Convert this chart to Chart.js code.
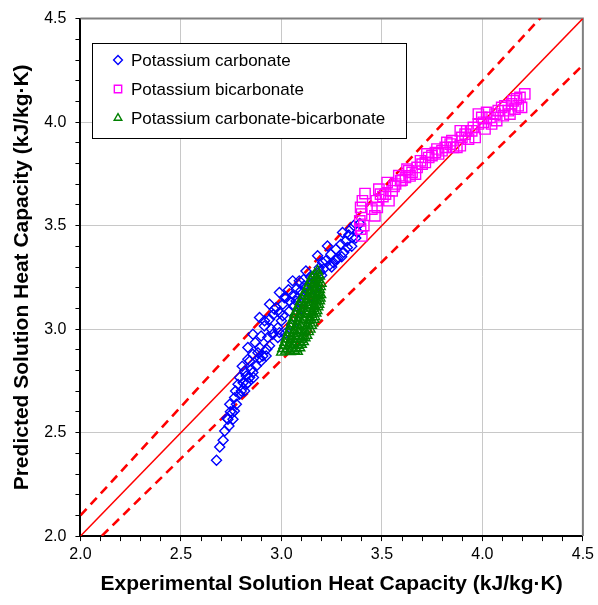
<!DOCTYPE html>
<html lang="en">
<head>
  <meta charset="UTF-8" />
  <title>Solution Heat Capacity</title>
  <script src="https://cdn.jsdelivr.net/npm/chart.js"></script>
  <style>
    body {margin:0; background:#fff;}
    #wrap {width:598px; height:605px;}
  </style>
</head>
<body>
  <div id="wrap"><canvas id="chart" width="598" height="605"></canvas></div>

  <script>
    // series labels
    const seriesNames = ['Potassium carbonate', 'Potassium bicarbonate', 'Potassium carbonate-bicarbonate'];

    // Potassium carbonate (experimental, predicted)
    const carbX = [2.677,2.693,2.710,2.718,2.739,2.759,2.734,2.756,2.743,2.776,2.767,2.792,2.772,2.817,2.784,2.809,2.833,2.792,2.825,2.861,
      2.817,2.850,2.875,2.842,2.891,2.833,2.858,2.907,2.891,2.927,2.833,2.858,2.899,2.932,2.957,2.891,2.916,2.941,2.949,2.982,
      2.941,2.974,2.990,3.007,2.965,2.990,3.015,3.040,3.007,3.056,3.064,3.023,3.040,3.073,3.097,3.114,3.122,3.147,3.155,3.089,
      3.180,3.188,3.205,3.229,3.246,3.271,3.271,3.304,3.320,3.345,3.353,3.328,3.296,3.221,3.130,3.073,2.899,2.924,2.941,2.982,
      2.990,2.883,2.842,2.858,2.825,2.800,2.729,2.766,2.746,3.020,3.050,3.100,3.150,3.170,3.200,3.250,3.300,3.350,3.370,3.380,
      3.360,3.390,3.240,3.280,3.310,3.190,3.160,3.120,3.080,3.060,2.805,2.870,2.915,2.960,3.000,3.035,3.110,3.210,3.260,3.335];
    const carbY = [2.366,2.430,2.463,2.508,2.532,2.564,2.564,2.596,2.637,2.637,2.669,2.685,2.701,2.701,2.733,2.741,2.741,2.766,2.774,2.766,
      2.798,2.806,2.822,2.846,2.862,2.854,2.879,2.870,2.911,2.903,2.911,2.975,2.967,2.959,2.975,3.056,3.040,3.048,3.000,3.007,
      3.120,3.104,3.080,3.064,3.096,3.177,3.152,3.136,3.120,3.233,3.161,3.152,3.088,3.136,3.185,3.209,3.281,3.249,3.225,3.233,
      3.354,3.297,3.322,3.402,3.362,3.386,3.338,3.467,3.426,3.483,3.442,3.394,3.410,3.330,3.177,3.193,2.846,2.870,2.919,2.959,
      2.983,2.886,2.766,2.790,2.734,2.701,2.569,2.604,2.601,2.980,3.020,3.100,3.160,3.200,3.260,3.300,3.350,3.400,3.440,3.470,
      3.500,3.510,3.310,3.340,3.370,3.280,3.250,3.200,3.150,3.110,2.820,2.935,3.015,3.070,3.040,3.190,3.240,3.290,3.320,3.455];

    // Potassium bicarbonate
    const bicX = [3.394,3.390,3.399,3.394,3.403,3.416,3.465,3.477,3.472,3.493,3.485,3.526,3.535,3.518,3.551,3.568,3.593,3.584,3.617,3.634,
      3.625,3.650,3.667,3.675,3.700,3.692,3.716,3.733,3.724,3.749,3.766,3.774,3.782,3.799,3.815,3.823,3.840,3.848,3.856,3.873,
      3.890,3.898,3.890,3.914,3.922,3.931,3.947,3.955,3.964,3.980,3.980,3.997,4.005,4.013,4.021,4.038,4.046,4.063,4.071,4.079,
      4.096,4.104,4.112,4.129,4.145,4.137,4.153,4.170,4.178,4.187,4.211,4.195,4.162,3.400,3.410,3.450,3.505,3.560,3.600,3.640];
    const bicY = [3.483,3.523,3.556,3.588,3.620,3.655,3.547,3.588,3.620,3.652,3.676,3.708,3.620,3.652,3.668,3.701,3.717,3.741,3.733,3.765,
      3.773,3.757,3.749,3.781,3.797,3.813,3.805,3.829,3.846,3.838,3.853,3.870,3.846,3.862,3.878,3.902,3.894,3.910,3.878,3.878,
      3.886,3.926,3.958,3.942,3.958,3.918,3.958,3.974,3.926,3.991,4.039,4.023,3.999,3.967,4.047,4.023,3.991,4.039,4.007,4.055,
      4.071,4.031,4.079,4.055,4.088,4.039,4.103,4.112,4.079,4.119,4.136,4.071,4.063,3.450,3.500,3.580,3.640,3.690,3.720,3.740];

    // Potassium carbonate-bicarbonate
    const mixX = [3.000,3.020,3.045,3.065,3.080, 3.012,3.035,3.058,3.082,3.100, 3.022,3.046,3.072,3.098,3.118,
      3.034,3.058,3.085,3.110,3.135, 3.045,3.070,3.098,3.124,3.150, 3.055,3.082,3.110,3.138,3.162,
      3.066,3.094,3.122,3.150,3.172, 3.080,3.106,3.134,3.160,3.182, 3.094,3.120,3.146,3.170,3.190,
      3.108,3.134,3.158,3.180,3.196, 3.124,3.148,3.170,3.190, 3.138,3.160,3.180,3.198, 3.152,3.172,3.190, 3.180,
      3.006,3.028,3.052,3.074,3.092, 3.017,3.041,3.066,3.090,3.110, 3.028,3.052,3.079,3.104,3.127,
      3.040,3.064,3.092,3.117,3.143, 3.050,3.076,3.104,3.131,3.156, 3.061,3.088,3.116,3.144,3.167,
      3.073,3.100,3.128,3.155,3.177, 3.087,3.113,3.140,3.165,3.186, 3.101,3.127,3.152,3.175,3.193,
      3.116,3.141,3.164,3.185, 3.131,3.154,3.175,3.194, 3.145,3.166,3.185, 3.166,3.184];
    const mixY = [2.888,2.893,2.890,2.896,2.892, 2.921,2.917,2.924,2.919,2.926, 2.951,2.948,2.955,2.950,2.957,
      2.982,2.978,2.985,2.980,2.987, 3.012,3.009,3.015,3.010,3.017, 3.042,3.038,3.045,3.040,3.046,
      3.072,3.069,3.075,3.070,3.077, 3.102,3.098,3.105,3.100,3.107, 3.132,3.128,3.135,3.130,3.136,
      3.162,3.158,3.165,3.160,3.166, 3.192,3.188,3.195,3.190, 3.222,3.218,3.225,3.220, 3.252,3.248,3.255, 3.281,
      2.905,2.903,2.908,2.904,2.909, 2.935,2.932,2.938,2.934,2.939, 2.965,2.962,2.968,2.964,2.969,
      2.995,2.992,2.998,2.994,2.999, 3.025,3.022,3.028,3.024,3.029, 3.055,3.052,3.058,3.054,3.059,
      3.085,3.082,3.088,3.084,3.089, 3.115,3.112,3.118,3.114,3.119, 3.145,3.142,3.148,3.144,3.149,
      3.175,3.172,3.178,3.174, 3.205,3.202,3.208,3.204, 3.235,3.232,3.238, 3.265,3.262];

    // reference lines (parity and +/-5 %)
    const parityX = [2.0, 4.5];
    const upperFactor = 1.05, lowerFactor = 0.95;

    const pts = (xs, ys) => xs.map((x, i) => ({x: x, y: ys[i]}));
    const isMajor = v => Math.abs(v * 2 - Math.round(v * 2)) < 1e-6;
    const FONT = "'Liberation Sans', Arial, sans-serif";

    const datasets = [
      {label: seriesNames[2], data: pts(mixX, mixY), pointStyle: 'triangle', pointRadius: 5.6,
       borderColor: '#008000', backgroundColor: 'rgba(0,0,0,0)', borderWidth: 1.4, showLine: false, order: 1},
      {label: seriesNames[1], data: pts(bicX, bicY), pointStyle: 'rect', pointRadius: 7.3,
       borderColor: '#ff00ff', backgroundColor: 'rgba(0,0,0,0)', borderWidth: 1.4, showLine: false, order: 2},
      {label: seriesNames[0], data: pts(carbX, carbY), pointStyle: 'rectRot', pointRadius: 5,
       borderColor: '#0000ff', backgroundColor: 'rgba(0,0,0,0)', borderWidth: 1.4, showLine: false, order: 3},
      {label: 'y=x', data: parityX.map(x => ({x: x, y: x})), showLine: true, pointRadius: 0,
       borderColor: '#ff0000', borderWidth: 1.5, order: 4},
      {label: '+5%', data: parityX.map(x => ({x: x, y: x * upperFactor})), showLine: true, pointRadius: 0,
       borderColor: '#ff0000', borderWidth: 2.6, borderDash: [9, 6], order: 4},
      {label: '-5%', data: parityX.map(x => ({x: x, y: x * lowerFactor})), showLine: true, pointRadius: 0,
       borderColor: '#ff0000', borderWidth: 2.6, borderDash: [9, 6], order: 4}
    ];

    // grey frame on top and right of plot area
    const frame = {
      id: 'frame',
      beforeDatasetsDraw(chart) {
        const {ctx, chartArea: a} = chart;
        ctx.save();
        ctx.strokeStyle = '#808080';
        ctx.lineWidth = 2;
        ctx.beginPath();
        ctx.moveTo(a.left, a.top); ctx.lineTo(a.right, a.top); ctx.lineTo(a.right, a.bottom);
        ctx.stroke();
        ctx.restore();
      }
    };

    // boxed legend inside the plot
    const boxLegend = {
      id: 'boxLegend',
      afterDraw(chart) {
        const ctx = chart.ctx;
        const order = [2, 1, 0];
        ctx.save();
        ctx.fillStyle = '#fff';
        ctx.strokeStyle = '#000';
        ctx.lineWidth = 1;
        ctx.fillRect(92, 43, 314, 95);
        ctx.strokeRect(92.5, 43.5, 314, 95);
        ctx.font = '17px ' + FONT;
        ctx.textBaseline = 'middle';
        order.forEach((di, row) => {
          const ds = chart.data.datasets[di];
          const y = 60 + row * 29;
          ctx.strokeStyle = ds.borderColor;
          ctx.fillStyle = 'rgba(0,0,0,0)';
          ctx.lineWidth = 1.4;
          Chart.helpers.drawPoint(ctx, {pointStyle: ds.pointStyle, radius: ds.pointStyle === 'rect' ? 5.2 : 4.4,
            rotation: 0, borderWidth: 1.4}, 118, y);
          ctx.fillStyle = '#000';
          ctx.fillText(ds.label, 131, y + 1);
        });
        ctx.restore();
      }
    };

    const axis = title => ({
      type: 'linear', min: 2, max: 4.5,
      border: {color: '#000', width: 2},
      grid: {
        color: c => isMajor(c.tick.value) ? '#c8c8c8' : 'rgba(0,0,0,0)',
        tickColor: '#000', tickLength: 5, lineWidth: 1
      },
      ticks: {
        stepSize: 0.1, autoSkip: false, maxRotation: 0, color: '#000',
        font: {family: FONT, size: 16},
        callback: v => isMajor(v) ? v.toFixed(1) : ''
      },
      title: {display: true, text: title, color: '#000', font: {family: FONT, size: 21, weight: 'bold'}}
    });

    const xAxis = axis('Experimental Solution Heat Capacity (kJ/kg\u00b7K)');
    xAxis.ticks.padding = 4;
    xAxis.title.padding = {top: 3, bottom: 0};
    const yAxis = axis('Predicted Solution Heat Capacity (kJ/kg\u00b7K)');
    yAxis.ticks.padding = 9;
    yAxis.title.padding = {top: 0, bottom: 0};

    new Chart(document.getElementById('chart'), {
      type: 'scatter',
      data: {datasets: datasets},
      options: {
        responsive: false,
        animation: false,
        layout: {padding: {left: 10, right: 9, top: 18, bottom: 8.5}},
        plugins: {legend: {display: false}, tooltip: {enabled: false}},
        scales: {x: xAxis, y: yAxis}
      },
      plugins: [frame, boxLegend]
    });
  </script>
</body>
</html>
